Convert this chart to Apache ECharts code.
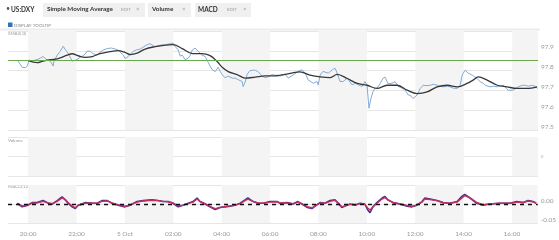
<!DOCTYPE html>
<html><head><meta charset="utf-8">
<script src="https://cdn.jsdelivr.net/npm/echarts@6/dist/echarts.min.js"></script>
<style>html,body{margin:0;padding:0;background:#fff}#c{width:559px;height:240px}</style>
</head><body><div id="c"></div>
<script>
// ---- data ----
const symbolName = 'US:DXY';
const rangeStart = '19:10', rangeEnd = '17:04';
const price = [
['19:33',97.853],['19:40',97.833],['19:45',97.817],['19:53',97.815],['19:58',97.823],['20:02',97.853],['20:10',97.848],['20:17',97.853],
['20:25',97.858],['20:30',97.863],['20:37',97.871],['20:47',97.853],['20:55',97.848],['21:02',97.823],['21:04',97.848],['21:12',97.878],
['21:19',97.896],['21:27',97.923],['21:32',97.906],['21:39',97.888],['21:44',97.868],['21:49',97.848],['21:52',97.838],['22:01',97.855],
['22:09',97.868],['22:14',97.873],['22:21',97.883],['22:26',97.898],['22:34',97.898],['22:39',97.888],['22:46',97.881],['22:51',97.878],
['22:58',97.893],['23:06',97.904],['23:16',97.911],['23:26',97.914],['23:36',97.909],['23:43',97.904],['23:48',97.893],['23:56',97.878],
['00:00',97.861],['00:08',97.871],['00:13',97.883],['00:20',97.896],['00:28',97.904],['00:38',97.909],['00:45',97.918],['00:53',97.929],
['01:02',97.936],['01:10',97.926],['01:15',97.921],['01:22',97.926],['01:32',97.930],['01:40',97.929],['01:47',97.934],['01:54',97.936],
['01:59',97.939],['02:04',97.923],['02:12',97.904],['02:17',97.873],['02:22',97.878],['02:29',97.855],['02:37',97.863],['02:42',97.878],
['02:47',97.904],['02:54',97.914],['03:01',97.898],['03:11',97.878],['03:19',97.871],['03:26',97.843],['03:31',97.823],['03:36',97.805],
['03:44',97.795],['03:51',97.817],['03:56',97.797],['04:01',97.780],['04:08',97.764],['04:16',97.772],['04:26',97.762],['04:33',97.762],
['04:41',97.754],['04:51',97.744],['04:53',97.719],['04:58',97.742],['05:03',97.782],['05:10',97.800],['05:18',97.802],['05:23',97.802],
['05:30',97.795],['05:40',97.772],['05:48',97.764],['05:55',97.769],['06:05',97.780],['06:12',97.777],['06:25',97.772],['06:37',97.782],
['06:45',97.762],['06:57',97.778],['07:09',97.796],['07:19',97.804],['07:27',97.787],['07:34',97.753],['07:47',97.736],['07:56',97.745],
['07:59',97.728],['08:04',97.778],['08:11',97.796],['08:24',97.787],['08:34',97.804],['08:41',97.812],['08:46',97.787],['08:53',97.745],
['09:01',97.745],['09:11',97.762],['09:23',97.728],['09:31',97.736],['09:38',97.728],['09:48',97.720],['09:55',97.745],['10:00',97.728],
['10:05',97.610],['10:10',97.661],['10:15',97.694],['10:20',97.711],['10:25',97.711],['10:33',97.736],['10:40',97.762],['10:45',97.767],
['10:52',97.734],['11:02',97.736],['11:10',97.744],['11:17',97.721],['11:22',97.716],['11:27',97.711],['11:35',97.701],['11:42',97.677],
['11:47',97.676],['11:54',97.659],['12:04',97.676],['12:12',97.710],['12:19',97.726],['12:29',97.724],['12:37',97.726],['12:44',97.731],
['12:54',97.726],['13:01',97.721],['13:09',97.718],['13:19',97.721],['13:26',97.718],['13:34',97.711],['13:44',97.710],['13:51',97.726],
['13:56',97.777],['14:03',97.802],['14:11',97.787],['14:21',97.777],['14:28',97.767],['14:33',97.760],['14:41',97.743],['14:48',97.736],
['14:53',97.726],['15:05',97.718],['15:13',97.721],['15:23',97.718],['15:30',97.724],['15:38',97.726],['15:45',97.711],['15:50',97.701],
['16:02',97.701],['16:15',97.718],['16:25',97.726],['16:32',97.726],['16:40',97.721],['16:49',97.726],['16:57',97.721],['17:02',97.710]
];
const sma = [
['20:00',97.850],['20:22',97.840],['20:37',97.848],['20:55',97.855],['21:14',97.861],['21:37',97.878],['21:49',97.885],['22:04',97.875],
['22:21',97.867],['22:39',97.871],['22:58',97.886],['23:23',97.896],['23:43',97.901],['00:00',97.892],['00:13',97.881],['00:30',97.888],
['00:50',97.909],['01:15',97.921],['01:40',97.929],['01:59',97.931],['02:22',97.911],['02:47',97.886],['03:11',97.886],['03:31',97.876],
['03:49',97.845],['04:01',97.817],['04:16',97.795],['04:38',97.780],['04:58',97.762],['05:23',97.767],['05:48',97.773],['06:12',97.773],
['06:25',97.777],['06:50',97.786],['07:14',97.794],['07:39',97.777],['08:04',97.768],['08:29',97.765],['08:46',97.781],['09:11',97.760],
['09:36',97.735],['10:00',97.726],['10:25',97.710],['10:50',97.726],['11:15',97.726],['11:40',97.701],['12:04',97.684],['12:29',97.692],
['12:54',97.718],['13:19',97.726],['13:44',97.718],['14:08',97.735],['14:23',97.752],['14:36',97.768],['14:58',97.752],['15:23',97.726],
['15:47',97.718],['16:12',97.710],['16:37',97.710],['17:02',97.718]
];
const referenceLevel = 97.846;
const macdTimes = ['19:33','19:45','19:48','19:58','20:10','20:22','20:37','20:50','21:00','21:12','21:24','21:32','21:39','21:49','21:57','22:04',
'22:21','22:39','22:51','23:03','23:16','23:28','23:43','00:00','00:13','00:30','00:45','01:07','01:22','01:35','01:47','01:59','02:12','02:24',
'02:37','02:49','02:59','03:06','03:19','03:31','03:44','03:56','04:08','04:21','04:33','04:46','04:58','05:05','05:18','05:30','05:43','06:00',
'06:17','06:25','06:42','06:57','07:09','07:19','07:32','07:44','07:51','08:04','08:16','08:29','08:41','08:49','08:58','09:06','09:18','09:31',
'09:43','09:55','10:03','10:08','10:15','10:25','10:38','10:45','10:52','11:05','11:22','11:40','11:52','12:04','12:17','12:24','12:37','12:54',
'13:09','13:26','13:44','13:56','14:03','14:16','14:33','14:48','15:05','15:30','15:55','16:12','16:27','16:40','16:52','17:00'];
const macdValues = [0.002,-0.0075,-0.011,-0.003,0.0036,0.0036,0.009,0.002,0,0.009,0.0186,0.011,0.002,-0.0075,-0.012,-0.003,
0.0036,0.002,0.002,0.009,0.009,0.002,-0.003,-0.0075,-0.003,0.0064,0.009,0.011,0.009,0.0064,0.0064,0.002,-0.0075,-0.003,
0.002,0.0064,0.0158,0.0064,0,-0.0075,-0.0147,-0.009,-0.0075,-0.0056,-0.003,0.002,0.011,0.0158,0.0064,0.002,0.002,0.0064,
0.0064,0.002,0.0036,0,0.0064,0,-0.009,-0.012,-0.0056,0.0036,0.002,0.009,0.011,0.002,-0.009,-0.0056,0,-0.003,
0.002,0,-0.0167,-0.023,-0.0075,0.0036,0.0158,0.020,0.011,0.0036,0,-0.0056,-0.0075,-0.003,0.0064,0.0158,0.013,0.009,
0.0036,0.002,0.0064,0.020,0.025,0.0158,0.002,-0.003,0,0.002,0.002,0.0064,0.0036,0.009,0.0064,0.002];
const signalValues = [0.001,-0.005,-0.008,-0.004,0.002,0.003,0.007,0.003,0.001,0.007,0.016,0.012,0.004,-0.005,-0.010,-0.004,
0.002,0.002,0.002,0.007,0.008,0.003,-0.002,-0.006,-0.003,0.005,0.008,0.010,0.009,0.007,0.006,0.003,-0.005,-0.003,
0.001,0.005,0.013,0.007,0.001,-0.006,-0.012,-0.009,-0.007,-0.005,-0.003,0.001,0.009,0.013,0.007,0.003,0.002,0.005,
0.006,0.003,0.003,0.001,0.005,0.001,-0.007,-0.010,-0.006,0.002,0.002,0.007,0.010,0.003,-0.007,-0.005,-0.001,-0.002,
0.001,-0.001,-0.011,-0.016,-0.008,0.002,0.013,0.017,0.011,0.004,0.000,-0.004,-0.006,-0.003,0.005,0.013,0.012,0.009,
0.004,0.002,0.005,0.016,0.022,0.016,0.004,-0.002,0.000,0.002,0.002,0.005,0.004,0.008,0.006,0.003];
const tickHours = [20,22,0,2,4,6,8,10,12,14,16];
const tickTexts = ['20:00','22:00','5 Oct','02:00','04:00','06:00','08:00','10:00','12:00','14:00','16:00'];

// ---- helpers ----
function ts(t){ const p=t.split(':').map(Number); const day=p[0]>=18?4:5; return Date.UTC(2016,9,day,p[0],p[1]); }
function xFmt(v){ const d=new Date(v); if(d.getUTCMinutes()!==0) return ''; const i=tickHours.indexOf(d.getUTCHours()); return i<0?'':tickTexts[i]; }
const FONT='Lato';
const labelColor='#9a9a9a';
const gridLineColor='#e6e6e6';
const band='#f4f4f4', clear='rgba(255,255,255,0)';
function xAxisCfg(gi, showLabels){
  return {type:'time', gridIndex:gi, min:ts(rangeStart), max:ts(rangeEnd),
    minInterval:3600000, maxInterval:3600000,
    axisLine:{show:false}, axisTick:{show:false}, splitLine:{show:false},
    // hourly split areas; alternate 2-hour shading starting at 20:00
    splitArea:{show:true, areaStyle:{color:[clear, band, band, clear]}},
    axisLabel:{show:showLabels, formatter:xFmt, color:labelColor, fontSize:6.5, fontFamily:FONT, margin:7,
      showMinLabel:false, showMaxLabel:false, hideOverlap:false}};
}

const chart = echarts.init(document.getElementById('c'), null, {renderer:'canvas'});
const txt = (x,y,s,size,color,weight)=>({type:'text', left:x, top:y, silent:true,
  style:{text:s, fontSize:size, fill:color, fontFamily:FONT, fontWeight:weight||'normal'}});
chart.setOption({
  animation:false,
  useUTC:true,
  backgroundColor:'#ffffff',
  grid:[
    {left:8, right:21, top:31, height:99},
    {left:8, right:21, top:137, height:39},
    {left:8, right:21, top:185, height:38}
  ],
  xAxis:[xAxisCfg(0,false), xAxisCfg(1,false), xAxisCfg(2,true)],
  yAxis:[
    {type:'value', gridIndex:0, position:'right', min:97.5, max:98.0, interval:0.1, scale:true,
     axisLine:{show:false}, axisTick:{show:false},
     splitLine:{lineStyle:{color:gridLineColor, width:1}},
     axisLabel:{formatter:v=>v>97.95?'':v.toFixed(1), color:labelColor, fontSize:6.5, fontFamily:FONT, margin:3, verticalAlign:'bottom'}},
    {type:'value', gridIndex:1, position:'right', min:0, max:2, interval:1,
     axisLine:{show:false}, axisTick:{show:false},
     splitLine:{lineStyle:{color:gridLineColor, width:1}},
     axisLabel:{formatter:v=>v===1?'0':'', color:'#aaa', fontSize:4, fontFamily:FONT, margin:3}},
    {type:'value', gridIndex:2, position:'right', min:-0.05, max:0.05, interval:0.05,
     axisLine:{show:false}, axisTick:{show:false},
     splitLine:{lineStyle:{color:gridLineColor, width:1}},
     axisLabel:{formatter:v=>v>0.01?'':(Math.abs(v)<1e-9?'0.00':v.toFixed(2)), color:labelColor, fontSize:6.5, fontFamily:FONT, margin:3, verticalAlign:'bottom'}}
  ],
  series:[
    {name:'Price', type:'line', xAxisIndex:0, yAxisIndex:0, showSymbol:false, z:3,
     data:price.map(p=>[ts(p[0]),p[1]]), lineStyle:{color:'#80acd9', width:1},
     markLine:{silent:true, symbol:'none', label:{show:false}, lineStyle:{color:'#6aa84f', width:1, type:'solid'},
       data:[{yAxis:referenceLevel}]}},
    {name:'SMA', type:'line', xAxisIndex:0, yAxisIndex:0, showSymbol:false, smooth:0.35, z:4,
     data:sma.map(p=>[ts(p[0]),p[1]]), lineStyle:{color:'#383838', width:1.3}},
    {name:'MACD', type:'line', xAxisIndex:2, yAxisIndex:2, showSymbol:false, z:3,
     data:macdTimes.map((t,i)=>[ts(t),macdValues[i]]), lineStyle:{color:'#4b2c91', width:1.6},
     markLine:{silent:true, symbol:'none', label:{show:false}, lineStyle:{color:'#111', width:1.4, type:[4,4]}, data:[{yAxis:0}]}},
    {name:'Signal', type:'line', xAxisIndex:2, yAxisIndex:2, showSymbol:false, z:4,
     data:macdTimes.map((t,i)=>[ts(t),signalValues[i]]), lineStyle:{color:'#c3305f', width:1.4}}
  ],
  graphic:[
    {type:'line', silent:true, shape:{x1:0,y1:29.5,x2:540,y2:29.5}, style:{stroke:'#ececec', lineWidth:2}},
    {type:'rect', silent:true, shape:{x:43,y:3,width:102,height:14}, style:{fill:'#f0f0f0'}},
    {type:'rect', silent:true, shape:{x:148,y:3,width:43,height:14}, style:{fill:'#f0f0f0'}},
    {type:'rect', silent:true, shape:{x:195,y:3,width:56,height:14}, style:{fill:'#f0f0f0'}},
    txt(6,5.5,'•',7,'#555'),
    txt(11,6.3,symbolName,6.5,'#333','bold'),
    txt(47,6.3,'Simple Moving Average',6.3,'#333','bold'),
    txt(121,7.5,'EDIT',4.5,'#999'),
    txt(136,6.5,'×',6,'#999'),
    txt(152,6.3,'Volume',6.3,'#333','bold'),
    txt(182,6.5,'×',6,'#999'),
    txt(198,6.3,'MACD',6.5,'#333','bold'),
    txt(227,7.5,'EDIT',4.5,'#999'),
    txt(243,6.5,'×',6,'#999'),
    {type:'rect', silent:true, shape:{x:8,y:22.5,width:4.5,height:4.5}, style:{fill:'#3a6fb5'}},
    txt(14,22.8,'DISPLAY TOOLTIP',4.5,'#888'),
    txt(8,31.5,'SMA(5,0)',4.5,'#999'),
    txt(8,138,'Volume',4.5,'#999'),
    txt(8,184.5,'MACD(12,26,9)',4.5,'#999')
  ]
});
</script></body></html>
